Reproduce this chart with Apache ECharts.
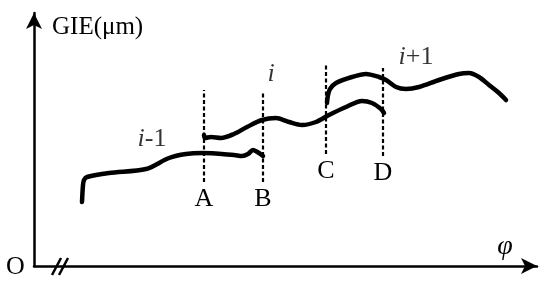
<!DOCTYPE html>
<html>
<head>
<meta charset="utf-8">
<script src="https://cdn.jsdelivr.net/npm/echarts@6/dist/echarts.min.js"></script>
<style>
  html, body { margin: 0; padding: 0; background: #fff; }
  #chart { width: 550px; height: 289px; }
</style>
</head>
<body>
<div id="chart"></div>
<script>
// curve i-1 (phi, GIE)
const prevPhi = [48, 49, 50, 53, 75, 112, 135, 152, 168, 200, 208, 214, 219, 225, 229];
const prevGie = [64, 81, 86, 89, 93, 97, 108, 112, 113, 111, 110, 112, 116, 113, 110];
// curve i
const curPhi = [170, 171, 177, 187, 200, 213, 228, 242, 255, 268, 282, 295, 312, 328, 338, 347, 350];
const curGie = [131, 128, 129, 128, 132, 139, 146, 148, 144, 141, 144, 151, 159, 165, 163, 157, 153];
// curve i+1
const nextPhi = [293, 294, 296, 302, 318, 332, 345, 352, 362, 372, 385, 405, 425, 435, 445, 455, 465, 472];
const nextGie = [163, 171, 177, 183, 189, 192, 189, 186, 179, 177, 179, 186, 192, 193, 189, 181, 173, 166];

// dashed cut positions
const cutNames = ['A', 'B', 'C', 'D'];
const cutPhi = [170, 229, 292, 349];
const cutLow = [84, 84, 112, 110];
const cutHigh = [176, 173, 201, 198];

// curve labels
const curveNames = ['{it|i}{n|-1}', '{it|i}', '{it|i}{n|+1}'];
const curveLabelPhi = [118, 237, 382];
const curveLabelGie = [127, 192, 209];

const zip = (xs, ys) => xs.map((x, i) => [x, ys[i]]);
const serif = 'Liberation Serif';

const curveStyle = { color: '#000', width: 4.5, cap: 'round', join: 'round' };

const chart = echarts.init(document.getElementById('chart'));
chart.setOption({
  animation: false,
  backgroundColor: '#fff',
  grid: { left: 34, right: 13, top: 13, bottom: 23 },
  xAxis: {
    type: 'value', min: 0, max: 503,
    name: 'φ',
    nameLocation: 'end',
    nameGap: -32,
    nameTextStyle: {
      fontFamily: serif, fontStyle: 'italic', fontSize: 28, color: '#000',
      align: 'center', verticalAlign: 'bottom', padding: [0, 0, 5, 0]
    },
    axisLine: {
      symbol: ['none', 'arrow'], symbolSize: [12, 16],
      lineStyle: { color: '#000', width: 2.5 }
    },
    axisTick: { show: false }, axisLabel: { show: false }, splitLine: { show: false }
  },
  yAxis: {
    type: 'value', min: 0, max: 253,
    name: 'GIE(μm)',
    nameLocation: 'end',
    nameGap: -14,
    nameTextStyle: {
      fontFamily: serif, fontSize: 25, color: '#000',
      align: 'left', verticalAlign: 'middle', padding: [0, 0, 0, 18]
    },
    axisLine: {
      symbol: ['none', 'arrow'], symbolSize: [12, 16],
      lineStyle: { color: '#000', width: 2.5 }
    },
    axisTick: { show: false }, axisLabel: { show: false }, splitLine: { show: false }
  },
  graphic: [
    { type: 'text', left: 6, top: 254, style: { text: 'O', font: '26px "Liberation Serif"', fill: '#000' } },
    { type: 'rect', shape: { x: 56, y: 262, width: 10, height: 8 }, style: { fill: '#fff' } },
    { type: 'line', shape: { x1: 52, y1: 275, x2: 61, y2: 258 }, style: { stroke: '#000', lineWidth: 2.5 } },
    { type: 'line', shape: { x1: 59, y1: 275, x2: 68, y2: 258 }, style: { stroke: '#000', lineWidth: 2.5 } }
  ],
  series: [
    {
      name: 'i-1', type: 'line', data: zip(prevPhi, prevGie), smooth: 0.3,
      showSymbol: false, lineStyle: curveStyle
    },
    {
      name: 'i', type: 'line', data: zip(curPhi, curGie), smooth: 0.3,
      showSymbol: false, lineStyle: curveStyle
    },
    {
      name: 'i+1', type: 'line', data: zip(nextPhi, nextGie), smooth: 0.3,
      showSymbol: false, lineStyle: curveStyle
    },
    {
      name: 'cuts', type: 'line', data: [],
      markLine: {
        silent: true,
        symbol: ['none', 'none'],
        lineStyle: { color: '#000', width: 2.2, type: [4, 2.5] },
        label: {
          position: 'start', distance: 4,
          fontFamily: serif, fontSize: 26, color: '#000',
          formatter: p => p.data.label_
        },
        data: cutNames.map((n, i) => [
          { coord: [cutPhi[i], cutLow[i]], label_: n },
          { coord: [cutPhi[i], cutHigh[i]] }
        ])
      }
    },
    {
      name: 'labels', type: 'scatter', symbolSize: 0, silent: true,
      data: curveNames.map((n, i) => ({ value: [curveLabelPhi[i], curveLabelGie[i]], name: n })),
      label: {
        show: true, position: 'inside',
        formatter: p => p.name,
        rich: {
          it: { fontFamily: serif, fontSize: 26, fontStyle: 'italic', color: '#000' },
          n: { fontFamily: serif, fontSize: 26, color: '#000' }
        }
      }
    }
  ]
});
</script>
</body>
</html>
